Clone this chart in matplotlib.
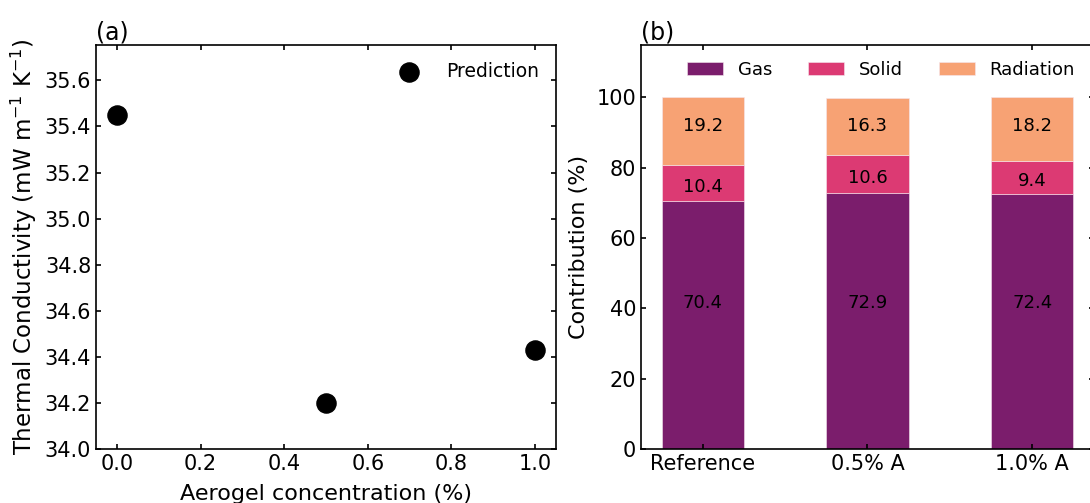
import matplotlib
matplotlib.use("Agg")
import matplotlib.pyplot as plt
import numpy as np

# Panel (a) data
conc = [0.0, 0.5, 1.0]
kappa = [35.45, 34.20, 34.43]

# Panel (b) data
samples = ["Reference", "0.5% A", "1.0% A"]
gas = [70.4, 72.9, 72.4]
solid = [10.4, 10.6, 9.4]
radiation = [19.2, 16.3, 18.2]

c_gas = "#7b1d6c"
c_solid = "#dc3a73"
c_rad = "#f7a274"

plt.rcParams["font.family"] = "DejaVu Sans"
plt.rcParams["xtick.direction"] = "in"
plt.rcParams["ytick.direction"] = "in"
plt.rcParams["xtick.top"] = True
plt.rcParams["ytick.right"] = True
plt.rcParams["axes.linewidth"] = 1.2
plt.rcParams["xtick.major.width"] = 1.2
plt.rcParams["ytick.major.width"] = 1.2

fig = plt.figure(figsize=(10.9, 5.03), dpi=100)
W, H = 1090, 503
ax1 = fig.add_axes([96 / W, (H - 449) / H, 460 / W, (449 - 44.7) / H])
ax2 = fig.add_axes([641 / W, (H - 449) / H, 453 / W, (449 - 44.7) / H])

# (a)
ax1.scatter(conc, kappa, s=190, color="black", label="Prediction", zorder=3)
ax1.set_xlim(-0.05, 1.05)
ax1.set_ylim(34.0, 35.755)
ax1.set_xticks(np.arange(0, 1.01, 0.2))
ax1.set_yticks(np.arange(34.0, 35.61, 0.2))
ax1.xaxis.set_major_formatter(matplotlib.ticker.FormatStrFormatter("%.1f"))
ax1.yaxis.set_major_formatter(matplotlib.ticker.FormatStrFormatter("%.1f"))
ax1.tick_params(labelsize=15)
ax1.set_xlabel("Aerogel concentration (%)", fontsize=16, labelpad=7)
ax1.set_ylabel("Thermal Conductivity (mW m$^{-1}$ K$^{-1}$)", fontsize=16.5)
ax1.legend(loc="upper right", frameon=False, fontsize=13.5, handletextpad=1.0)
ax1.set_title("(a)", loc="left", fontsize=17, pad=3)

# (b)
x = np.arange(len(samples))
w = 0.5
b1 = ax2.bar(x, gas, w, color=c_gas, edgecolor="#f5e6ee", linewidth=0.4, label="Gas")
b2 = ax2.bar(x, solid, w, bottom=gas, color=c_solid, edgecolor="#f5e6ee", linewidth=0.4, label="Solid")
bot3 = np.array(gas) + np.array(solid)
b3 = ax2.bar(x, radiation, w, bottom=bot3, color=c_rad, edgecolor="#f5e6ee", linewidth=0.4, label="Radiation")

# label heights (as placed in the original figure)
gas_label_y = 41.6
rad_label_y = 92.0
for xi, g, s, r in zip(x, gas, solid, radiation):
    ax2.text(xi, gas_label_y, f"{g:.1f}", ha="center", va="center", fontsize=13)
    ax2.text(xi, g + s / 2 - 1.0, f"{s:.1f}", ha="center", va="center", fontsize=13)
    ax2.text(xi, rad_label_y, f"{r:.1f}", ha="center", va="center", fontsize=13)

ax2.set_xticks(x)
ax2.set_xticklabels(samples)
ax2.set_ylim(0, 115)
ax2.set_yticks([0, 20, 40, 60, 80, 100])
ax2.tick_params(labelsize=15)
ax2.set_ylabel("Contribution (%)", fontsize=16, labelpad=5)
ax2.legend(loc="upper center", bbox_to_anchor=(0.53, 1.0), ncol=3, frameon=False, fontsize=13,
           columnspacing=2.0)
ax2.set_title("(b)", loc="left", fontsize=17, pad=3)

fig.savefig("out.png", dpi=100)
